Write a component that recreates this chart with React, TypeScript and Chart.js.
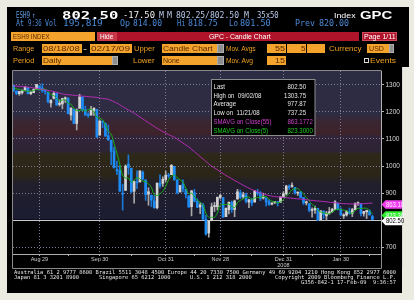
import React, { useEffect, useRef } from 'react';
import { Chart, registerables } from 'chart.js';
Chart.register(...registerables);

// ---------------- data ----------------
const dates = [
  '08/18/08','08/19/08','08/20/08','08/21/08','08/22/08','08/25/08','08/26/08','08/27/08','08/28/08','08/29/08',
  '09/02/08','09/03/08','09/04/08','09/05/08','09/08/08','09/09/08','09/10/08','09/11/08','09/12/08','09/15/08',
  '09/16/08','09/17/08','09/18/08','09/19/08','09/22/08','09/23/08','09/24/08','09/25/08','09/26/08','09/29/08',
  '09/30/08','10/01/08','10/02/08','10/03/08','10/06/08','10/07/08','10/08/08','10/09/08','10/10/08','10/13/08',
  '10/14/08','10/15/08','10/16/08','10/17/08','10/20/08','10/21/08','10/22/08','10/23/08','10/24/08','10/27/08',
  '10/28/08','10/29/08','10/30/08','10/31/08','11/03/08','11/04/08','11/05/08','11/06/08','11/07/08','11/10/08',
  '11/11/08','11/12/08','11/13/08','11/14/08','11/17/08','11/18/08','11/19/08','11/20/08','11/21/08','11/24/08',
  '11/25/08','11/26/08','11/28/08','12/01/08','12/02/08','12/03/08','12/04/08','12/05/08','12/08/08','12/09/08',
  '12/10/08','12/11/08','12/12/08','12/15/08','12/16/08','12/17/08','12/18/08','12/19/08','12/22/08','12/23/08',
  '12/24/08','12/26/08','12/29/08','12/30/08','12/31/08','01/02/09','01/05/09','01/06/09','01/07/09','01/08/09',
  '01/09/09','01/12/09','01/13/09','01/14/09','01/15/09','01/16/09','01/20/09','01/21/09','01/22/09','01/23/09',
  '01/26/09','01/27/09','01/28/09','01/29/09','01/30/09','02/02/09','02/03/09','02/04/09','02/05/09','02/06/09',
  '02/09/09','02/10/09','02/11/09','02/12/09','02/13/09','02/17/09'
];
const opens = [
  1298,1277,1267,1271,1278,1290,1267,1271,1284,1296,
  1288,1277,1272,1233,1250,1268,1227,1229,1246,1251,
  1188,1210,1157,1213,1255,1207,1189,1188,1204,1209,
  1114,1164,1158,1112,1095,1055,986,985,899,910,
  1007,992,907,939,941,977,949,896,892,871,
  846,937,936,950,966,968,999,949,904,934,
  914,890,850,901,870,849,856,803,753,798,
  850,850,884,884,813,839,865,839,878,901,
  887,893,867,876,867,903,901,882,882,869,
  859,865,867,866,886,897,923,925,921,900,
  904,884,864,861,836,838,844,801,834,816,
  826,831,840,863,840,816,819,831,825,839,
  861,860,825,831,834,814
];
const highs = [
  1300,1277,1276,1281,1293,1290,1276,1285,1301,1296,
  1303.75,1281,1272,1245,1274,1269,1244,1250,1255,1251,
  1215,1210,1211,1265,1255,1221,1197,1220,1216,1209,
  1168,1167,1158,1151,1095,1070,1018,1002,933,1004,
  1041,992,945,982,982,982,949,920,893,891,
  937,967,960,981,973,1005,999,949,928,949,
  914,890,910,914,879,863,862,818,798,863,
  866,885,893,884,846,868,871,874,914,911,
  903,900,878,880,910,914,906,900,882,875,
  865,869,869,886,905,929,931,938,921,904,
  906,884,871,861,846,852,844,836,834,833,
  847,844,872,863,846,824,836,845,844,864,
  868,861,833,837,838,818.75
];
const lows = [
  1274,1263,1261,1265,1277,1265,1263,1270,1283,1280,
  1272,1265,1233,1217,1247,1224,1221,1211,1234,1192,
  1169,1156,1133,1213,1205,1187,1180,1188,1187,1106,
  1114,1141,1108,1095,1005,993,968,906,837,910,
  969,901,863,916,941,949,873,855,850,844,
  842,919,925,942,956,968,947,897,904,904,
  882,847,816,867,846,824,803,745,737.25,798,
  832,838,878,811,813,823,829,813,878,880,
  880,864,846,853,867,891,872,878,852,855,
  856,861,852,866,885,893,914,921,896,891,
  882,858,856,831,811,825,798,798,805,800,
  822,829,840,838,816,806,815,822,813,838,
  855,816,815,806,818,801.5
];
const closes = [
  1279,1267,1275,1278,1292,1267,1272,1282,1301,1283,
  1278,1275,1237,1242,1268,1225,1232,1249,1252,1193,
  1214,1156,1206,1255,1207,1188,1186,1209,1213,1106,
  1166,1161,1111,1096,1054,993,982,907,896,1000,
  995,905,943,938,982,952,894,905,874,846,
  937,927,951,966,963,1003,950,902,928,916,
  896,849,908,870,848,856,804,749,797,849,
  854,885,893,811,844,866,840,871,905,884,
  894,869,875,864,908,899,880,883,867,858,
  863,868,864,886,898,926,921,929,901,904,
  884,864,866,837,838,844,799,834,821,826,
  831,840,868,839,820,818,832,825,839,862,
  863,825,832,836,820,802.5
];
const sma55 = [
  1296,1295,1294,1293,1292,1291,1290,1288,1287,1285,
  1283,1281,1279,1277,1275,1272,1269,1266,1264,1263,
  1262,1261,1260,1259,1258,1257,1256,1255,1254,1253,
  1251,1249,1248,1246,1242,1237,1232,1226,1219,1213,
  1207,1201,1195,1188,1181,1174,1167,1160,1153,1146,
  1139,1133,1127,1121,1116,1111,1106,1099,1092,1085,
  1078,1071,1062,1053,1044,1035,1026,1017,1008,1000,
  993,986,979,972,965,959,953,947,941,935,
  929,924,918,913,909,905,901,897,894,891,
  889,887,886,885,884,883,882,881,880,879,
  878,877,876,874,873,872,871,870,869,868,
  866,865,864,863,862,861,861,860,860,860,
  860,861,861,862,862.5,863.1772
];
const sma5 = [
  1289.2,1284.6,1282.4,1279.4,1278.2,1275.8,1276.8,1278.2,1282.8,1281,
  1283.2,1283.8,1274.8,1263,1260,1249.4,1240.8,1243.2,1245.2,1230.2,
  1228,1212.8,1204.2,1204.8,1207.6,1202.4,1208.4,1209,1200.6,1180.4,
  1176,1171,1151.4,1128,1117.6,1083,1047.2,1006.4,966.4,955.6,
  956,940.6,947.8,956.2,952.6,944,941.8,934.2,921.4,894.2,
  891.2,897.8,907,925.4,948.8,962,966.6,956.8,949.2,939.8,
  918.4,898.2,899.4,887.8,874.2,866.2,857.2,825.4,810.8,811,
  810.6,826.8,855.6,858.4,857.4,859.8,850.8,846.4,865.2,873.2,
  878.8,884.6,885.4,877.2,882,883,885.2,886.8,887.4,877.4,
  870.2,867.8,864,867.8,875.8,888.4,899,912,915,916.2,
  907.8,896.4,883.8,871,857.8,849.8,836.8,830.4,827.2,824.8,
  822.2,830.4,837.2,840.8,839.6,837,835.4,826.8,826.8,835.2,
  844.2,842.8,844.2,843.6,835.2,823.3
];
const yTicks = [700, 800, 900, 1000, 1100, 1200, 1300];
const xTickDates = ['08/29/08','09/30/08','10/31/08','11/28/08','12/31/08','01/30/09'];
const xTickText = ['Aug 29','Sep 30','Oct 31','Nov 28','Dec 31','Jan 30'];
const xTickSub = ['','','','','2008',''];
const xMinorDates = ['09/15/08','10/15/08','11/14/08','12/15/08','01/15/09','02/13/09'];
const infoLabels = ['Last','High on  09/02/08','Average','Low on  11/21/08','SMAVG on Close(55)','SMAVG on Close(5)'];
const infoValues = ['802.50','1303.75','977.87','737.25','863.1772','823.3000'];

// ---------------- styles ----------------
const SANS = "'Liberation Sans', Arial, sans-serif";
const MONO = "'DejaVu Sans Mono', monospace";
const MAG = '#b82cb8';
const GRN = '#18b018';
const UPC = '#d4d4d4';
const DNC = '#1e8cf4';
const GRID = '#7c7c96';
const BLUE = '#4a8ad8';
const ORANGE = '#f0a020';
const BOXBG = '#f4a42c';
const BOXTX = '#5a2a00';
const BANDS: [number, string][] = [
  [1351, '#2c2c44'], [1190, '#2e2c42'], [1165, '#3a2632'], [1120, '#3e222a'],
  [1105, '#31253a'], [1055, '#2c2434'], [1042, '#2e2819'], [965, '#2b2518'],
  [935, '#211f2c'], [802.5, '#1c1c32']
];

let mctx: CanvasRenderingContext2D | null = null;
function fit(text: string, font: string, w: number) {
  if (!mctx) mctx = document.createElement('canvas').getContext('2d');
  if (!mctx) return 1;
  mctx.font = font;
  const m = mctx.measureText(text).width;
  return m > 0 ? w / m : 1;
}

function Txt({ t, x0, x1, cy, size, color, bold = false, fam = SANS }: any) {
  const font = `${bold ? 'bold ' : ''}${size}px ${fam}`;
  const s = fit(t, font, x1 - x0);
  return (
    <div style={{ position: 'absolute', left: x0, top: cy - 0.49 * size, font, color, whiteSpace: 'pre',
      lineHeight: `${size}px`, transform: `scaleX(${s})`, transformOrigin: '0 0' }}>{t}</div>
  );
}
function Box({ x0, x1, y0, y1, bg, border }: any) {
  return <div style={{ position: 'absolute', left: x0, top: y0, width: x1 - x0, height: y1 - y0, background: bg,
    boxSizing: 'border-box', border: border ? `1px solid ${border}` : 'none' }} />;
}

export default function App() {
  const ref = useRef<HTMLCanvasElement>(null);
  useEffect(() => {
    const n = dates.length;
    const idx = dates.map((_, i) => i);
    const majorIdx = xTickDates.map(d => dates.indexOf(d));
    const minorIdx = xMinorDates.map(d => dates.indexOf(d));
    const up = idx.map(i => closes[i] >= opens[i]);
    const lastClose = closes[n - 1];

    const deco = {
      id: 'deco',
      beforeDraw(chart: any) {
        const { ctx, chartArea: a, scales: { y } } = chart;
        ctx.save();
        ctx.fillStyle = '#000';
        ctx.fillRect(a.left, a.top, a.right - a.left, a.bottom - a.top);
        const yl = y.getPixelForValue(lastClose);
        const g = ctx.createLinearGradient(0, a.top, 0, yl);
        BANDS.forEach(([v, c]) => {
          const f = Math.min(1, Math.max(0, (y.getPixelForValue(v) - a.top) / (yl - a.top)));
          g.addColorStop(f, c);
        });
        ctx.fillStyle = g;
        ctx.fillRect(a.left, a.top, a.right - a.left, yl - a.top);
        ctx.restore();
      },
      beforeDatasetsDraw(chart: any) {
        const { ctx, chartArea: a, scales: { y } } = chart;
        const yl = Math.round(y.getPixelForValue(lastClose)) + 0.5;
        ctx.save();
        ctx.strokeStyle = '#c8c8c8';
        ctx.lineWidth = 1;
        ctx.beginPath(); ctx.moveTo(a.left, yl); ctx.lineTo(a.right, yl); ctx.stroke();
        ctx.restore();
      },
      afterDraw(chart: any) {
        const { ctx, chartArea: a, scales: { y } } = chart;
        ctx.save();
        // frame
        ctx.strokeStyle = '#8a8a8a';
        ctx.lineWidth = 1;
        const L = Math.round(a.left) - 0.5, T = Math.round(a.top) - 0.5, R = Math.round(a.right) + 0.5;
        const B2 = Math.round(a.bottom) + 14 + 0.5;
        ctx.beginPath();
        ctx.moveTo(L, B2); ctx.lineTo(L, T); ctx.lineTo(R, T);
        ctx.moveTo(L, B2); ctx.lineTo(R, B2); ctx.lineTo(R, a.bottom);
        ctx.stroke();
        // right window edge
        ctx.strokeStyle = '#d8d8d8';
        ctx.beginPath(); ctx.moveTo(402.5, 67); ctx.lineTo(402.5, 268); ctx.stroke();
        // info box
        const bx = 211.5, by = 79.5, bw = 103.5, bh = 56;
        ctx.fillStyle = '#000';
        ctx.fillRect(bx, by, bw, bh);
        ctx.strokeStyle = '#8c8c8c';
        ctx.strokeRect(bx, by, bw, bh);
        const sx = 0.76;
        ctx.font = `8px ${SANS}`;
        ctx.textBaseline = 'alphabetic';
        const cols = ['#e8e8e8', '#e8e8e8', '#e8e8e8', '#e8e8e8', '#d040d0', '#20d020'];
        infoLabels.forEach((lab, k) => {
          const yy = 88.6 + k * 8.9;
          ctx.fillStyle = cols[k];
          ctx.save(); ctx.translate(213.5, yy); ctx.scale(sx, 1);
          ctx.textAlign = 'left'; ctx.fillText(lab, 0, 0); ctx.restore();
          const [ip, fp] = infoValues[k].split('.');
          ctx.save(); ctx.translate(297.6, yy); ctx.scale(sx, 1);
          ctx.textAlign = 'right'; ctx.fillText(ip, 0, 0);
          ctx.textAlign = 'left'; ctx.fillText('.' + fp, 0, 0); ctx.restore();
        });
        // right tags
        const tag = (v: number, fill: string, tc: string) => {
          const yc = y.getPixelForValue(v) + 1.5;
          const x0 = a.right + 0.5, x1 = 402, h = 8.5;
          ctx.beginPath();
          ctx.moveTo(x0, yc); ctx.lineTo(x0 + 4, yc - h / 2); ctx.lineTo(x1, yc - h / 2);
          ctx.lineTo(x1, yc + h / 2); ctx.lineTo(x0 + 4, yc + h / 2); ctx.closePath();
          ctx.fillStyle = fill; ctx.fill();
          ctx.fillStyle = tc;
          ctx.font = `7px ${SANS}`;
          ctx.textAlign = 'left'; ctx.textBaseline = 'middle';
          ctx.save(); ctx.translate(x0 + 4.5, yc + 0.5); ctx.scale(0.85, 1);
          ctx.fillText(v.toFixed(2), 0, 0); ctx.restore();
        };
        tag(sma55[n - 1], '#f040f0', '#ffe8ff');
        tag(sma5[n - 1], '#30f030', '#ffffff');
        tag(lastClose, '#ffffff', '#000000');
        ctx.restore();
      }
    };

    const chart = new Chart(ref.current as HTMLCanvasElement, {
      type: 'bar',
      data: {
        datasets: [
          { type: 'line', label: 'SMAVG on Close(55)', data: sma55.map((v, i) => ({ x: i, y: v })),
            borderColor: MAG, borderWidth: 1, pointRadius: 0, tension: 0.4, order: 0 } as any,
          { type: 'line', label: 'SMAVG on Close(5)', data: sma5.map((v, i) => ({ x: i, y: v })),
            borderColor: GRN, borderWidth: 1, pointRadius: 0, tension: 0.4, order: 0 } as any,
          { type: 'bar', label: 'body',
            data: idx.map(i => ({ x: i, y: [Math.min(opens[i], closes[i]), Math.max(opens[i], closes[i])] })),
            backgroundColor: idx.map(i => (up[i] ? UPC : DNC)), barThickness: 2, grouped: false,
            minBarLength: 1, order: 1 } as any,
          { type: 'bar', label: 'wick', data: idx.map(i => ({ x: i, y: [lows[i], highs[i]] })),
            backgroundColor: idx.map(i => (up[i] ? '#a8a8a8' : '#1a78d8')), barThickness: 1, grouped: false,
            order: 2 } as any,
        ]
      },
      options: {
        responsive: false, animation: false, devicePixelRatio: 1, events: [],
        layout: { padding: { left: 13, top: 71, right: 10, bottom: 32 } },
        plugins: { legend: { display: false }, tooltip: { enabled: false } },
        scales: {
          x: {
            type: 'linear', min: -0.2, max: 128, offset: false, bounds: 'data',
            afterBuildTicks: (s: any) => {
              s.ticks = [...majorIdx, ...minorIdx].sort((p, q) => p - q).map(v => ({ value: v }));
            },
            afterFit: (s: any) => { s.height = 14; },
            ticks: {
              autoSkip: false, maxRotation: 0, minRotation: 0, padding: 0, color: '#d0d0d0',
              font: { family: SANS, size: 5.5 },
              callback: (v: any) => {
                const k = majorIdx.indexOf(Number(v));
                if (k < 0) return '';
                return xTickSub[k] ? [xTickText[k], xTickSub[k]] : xTickText[k];
              }
            },
            grid: {
              offset: false, lineWidth: 1, tickLength: 2, tickColor: '#b0b0b0',
              color: (c: any) => (c.tick && majorIdx.includes(c.tick.value) ? GRID : 'rgba(0,0,0,0)')
            },
            border: { display: true, color: '#b0b0b0', dash: [1, 2] }
          },
          y: {
            type: 'linear', position: 'right', min: 675.3, max: 1350.6, bounds: 'data', beginAtZero: false,
            afterBuildTicks: (s: any) => { s.ticks = yTicks.map(v => ({ value: v })); },
            afterFit: (s: any) => { s.width = 23; },
            ticks: { color: '#d8d8d8', font: { family: SANS, size: 6.5 }, padding: 1.5, callback: (v: any) => String(v) },
            grid: { color: GRID, tickColor: '#b0b0b0', tickLength: 3, lineWidth: 1 },
            border: { display: true, color: '#b0b0b0', dash: [1, 2] }
          }
        }
      } as any,
      plugins: [deco]
    });
    return () => chart.destroy();
  }, []);

  const lab = (t: string, x0: number, x1: number, cy: number) =>
    <Txt key={t + x0} t={t} x0={x0} x1={x1} cy={cy} size={7.5} color={ORANGE} />;
  const inp = (t: string, x0: number, x1: number, y0: number, y1: number, tx0: number, tx1: number, sq?: number) => (
    <React.Fragment key={'i' + x0 + y0}>
      <Box x0={x0} x1={x1} y0={y0} y1={y1} bg={BOXBG} />
      {sq ? <Box x0={x1} x1={sq} y0={y0} y1={y1} bg='#8e8e8e' border='#b0b0b0' /> : null}
      {t ? <Txt t={t} x0={tx0} x1={tx1} cy={(y0 + y1) / 2} size={7.5} color={BOXTX} /> : null}
    </React.Fragment>
  );

  return (
    <div style={{ position: 'fixed', left: 0, top: 0, width: 414, height: 300, background: '#ecebe2', overflow: 'hidden' }}>
      <div style={{ position: 'absolute', left: 7, top: 7, width: 402, height: 60, background: '#000' }} />
      <div style={{ position: 'absolute', left: 7, top: 7, width: 395, height: 286, background: '#000' }} />
      <canvas ref={ref} width={414} height={300} style={{ position: 'absolute', left: 0, top: 0, width: 414, height: 300 }} />
      {/* row 1 */}
      <Txt t='ESH9' x0={16} x1={30} cy={15.8} size={8} color='#5f9be0' fam={MONO} />
      <Txt t='↑' x0={31.5} x1={35} cy={15.8} size={8} color='#5f9be0' fam={MONO} />
      <Txt t='802.50' x0={61.7} x1={118} cy={15.8} size={10} bold color='#ffffff' fam={MONO} />
      <Txt t='-17.50' x0={123} x1={155} cy={15.8} size={8} color='#f0f0f0' fam={MONO} />
      <Txt t='M' x0={159} x1={164} cy={15.8} size={8} color='#b8c8ea' fam={MONO} />
      <Txt t='M' x0={167} x1={172} cy={15.8} size={8} color='#b8c8ea' fam={MONO} />
      <Txt t='802.25/802.50' x0={175.7} x1={238.7} cy={15.8} size={8} color='#b8c8ea' fam={MONO} />
      <Txt t='M' x0={243.7} x1={248.7} cy={15.8} size={8} color='#b8c8ea' fam={MONO} />
      <Txt t='35x50' x0={257} x1={278.7} cy={15.8} size={8} color='#b8c8ea' fam={MONO} />
      <Txt t='Index' x0={333.7} x1={355.3} cy={15.8} size={8} color='#ffffff' />
      <Txt t='GPC' x0={359.7} x1={392} cy={15.8} size={10} bold color='#ffffff' />
      {/* row 2 */}
      {[['At', 16, 24], ['9:36', 28.3, 42], ['Vol', 45, 57], ['195,819', 63.3, 103], ['Op', 120, 130],
        ['814.00', 133.3, 162.3], ['Hi', 176.7, 185], ['818.75', 188.3, 218], ['Lo', 228.7, 237.7],
        ['801.50', 240.3, 271], ['Prev', 295.3, 315.3], ['820.00', 318.7, 348.7]].map(([t, a, b]: any) =>
        <Txt key={'r2' + t + a} t={t} x0={a} x1={b} cy={23.7} size={8} color={BLUE} fam={MONO} />)}
      {/* row 3 */}
      <Box x0={11} x1={95} y0={31.7} y1={40.7} bg={BOXBG} />
      <Txt t='ESH9 INDEX' x0={12.7} x1={49.3} cy={36.2} size={7.5} color={BOXTX} />
      <Box x0={96.7} x1={116.7} y0={31.7} y1={40.7} bg='#c83848' />
      <Txt t='Hide' x0={100} x1={113.3} cy={36.2} size={7.5} color='#ffffff' />
      <Box x0={116.7} x1={358.7} y0={31.7} y1={40.7} bg='#b0142a' />
      <Txt t='GPC - Candle Chart' x0={208.7} x1={270.3} cy={36.2} size={7.5} color='#ffffff' />
      <Box x0={362} x1={397} y0={31.7} y1={40.7} bg='#b0142a' border='#d04a5a' />
      <Txt t='Page 1/11' x0={363.7} x1={395.3} cy={36.2} size={7.5} color='#ffffff' />
      {/* row 4 */}
      {lab('Range', 12.7, 34, 48.7)}
      {inp('08/18/08', 41.7, 81.7, 44, 53.3, 43.3, 80)}
      <Txt t='-' x0={83.3} x1={87.3} cy={48.7} size={7.5} color='#ffffff' />
      {inp('02/17/09', 90, 131.7, 44, 53.3, 91, 130)}
      {lab('Upper', 134.3, 155, 48.7)}
      {inp('Candle Chart', 161.7, 217, 44, 53.3, 163.3, 213, 223.7)}
      {lab('Mov. Avgs', 226.3, 256.3, 48.7)}
      {inp('55', 267, 286, 44, 53.3, 275, 285)}
      {inp('5', 287, 306, 44, 53.3, 300.5, 305)}
      {inp('', 307, 325.3, 44, 53.3, 0, 0)}
      {lab('Currency', 328.7, 361.3, 48.7)}
      {inp('USD', 367, 388.7, 44, 53.3, 368.7, 383.7, 394.3)}
      {/* row 5 */}
      {lab('Period', 12.7, 34, 60.5)}
      {inp('Daily', 41.7, 111.7, 56, 65, 43.3, 61.7, 118.3)}
      {lab('Lower', 133.3, 155, 60.5)}
      {inp('None', 161.7, 217, 56, 65, 163.3, 180, 223.7)}
      {lab('Mov. Avg', 226.3, 253.7, 60.5)}
      {inp('15', 267, 286, 56, 65, 275, 285)}
      <div style={{ position: 'absolute', left: 364.3, top: 58.3, width: 4.4, height: 4.4, boxSizing: 'border-box', border: '1px solid #d8d8d8' }} />
      {lab('Events', 370.3, 396.3, 60.5)}
      {/* footer */}
      <Txt t='Australia 61 2 9777 8600 Brazil 5511 3048 4500 Europe 44 20 7330 7500 Germany 49 69 9204 1210 Hong Kong 852 2977 6000'
        x0={14} x1={396} cy={272.3} size={5.5} color='#e4e4e4' fam={MONO} />
      <Txt t='Japan 81 3 3201 8900' x0={14} x1={79} cy={277.3} size={5.5} color='#e4e4e4' fam={MONO} />
      <Txt t='Singapore 65 6212 1000' x0={99.3} x1={170.7} cy={277.3} size={5.5} color='#e4e4e4' fam={MONO} />
      <Txt t='U.S. 1 212 318 2000' x0={190} x1={251.7} cy={277.3} size={5.5} color='#e4e4e4' fam={MONO} />
      <Txt t='Copyright 2009 Bloomberg Finance L.P.' x0={275} x1={396} cy={277.3} size={5.5} color='#e4e4e4' fam={MONO} />
      <Txt t='G356-842-1 17-Feb-09  9:36:57' x0={301} x1={396} cy={282.3} size={5.5} color='#e4e4e4' fam={MONO} />
    </div>
  );
}
